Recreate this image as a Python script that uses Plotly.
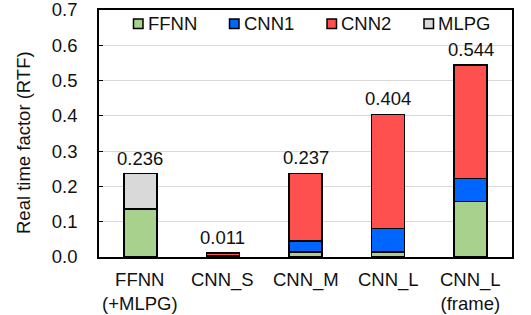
import plotly.graph_objects as go

categories = ["FFNN<br>(+MLPG)", "CNN_S", "CNN_M", "CNN_L", "CNN_L<br>(frame)"]
ffnn = [0.136, 0.001, 0.014, 0.014, 0.157]
cnn1 = [0.0, 0.002, 0.031, 0.067, 0.065]
cnn2 = [0.0, 0.008, 0.192, 0.323, 0.322]
mlpg = [0.100, 0.0, 0.0, 0.0, 0.0]
totals = [0.236, 0.011, 0.237, 0.404, 0.544]
total_labels = ["0.236", "0.011", "0.237", "0.404", "0.544"]
legend_names = ["FFNN", "CNN1", "CNN2", "MLPG"]
colors = ["#a9d18e", "#0066ff", "#ff5050", "#d9d9d9"]

W, H = 531, 315
L, R, T, B = 99, 19, 10, 58
pw, ph = W - L - R, H - T - B
def px(x): return (x - L) / pw
def py(y): return (H - B - y) / ph

fig = go.Figure()
for name, vals, col in zip(legend_names, [ffnn, cnn1, cnn2, mlpg], colors):
    fig.add_trace(go.Bar(x=categories, y=vals, name=name, showlegend=False,
                         marker=dict(color=col, line=dict(color="black", width=1.5))))

for c, t, lab in zip(categories, totals, total_labels):
    fig.add_annotation(x=c, y=t, text=lab, showarrow=False, yanchor="bottom",
                       yshift=3, font=dict(size=18.5, color="#111"))

# category labels under the axis
for c in categories:
    fig.add_annotation(x=c, xref="x", yref="paper", y=py(267), yanchor="top",
                       text=c, showarrow=False, align="center",
                       font=dict(size=18.5, color="#111"))

# manual legend
leg_x = [133.5, 229.5, 327, 424]
for xs, name, col in zip(leg_x, legend_names, colors):
    fig.add_shape(type="rect", xref="paper", yref="paper",
                  x0=px(xs), x1=px(xs + 9.5), y0=py(28.5), y1=py(19),
                  fillcolor=col, line=dict(color="black", width=1.5))
    fig.add_annotation(xref="paper", yref="paper", x=px(xs + 12), y=py(24),
                       xanchor="left", yanchor="middle", text=name, showarrow=False,
                       font=dict(size=18.5, color="#111"))

# y-axis title
fig.add_annotation(xref="paper", yref="paper", x=px(23), y=py(143), textangle=-90,
                   text="Real time factor (RTF)", showarrow=False,
                   xanchor="center", yanchor="middle", font=dict(size=18.5, color="#111"))

font = "Liberation Sans, Arial, sans-serif"
fig.update_layout(
    width=W, height=H, barmode="stack", bargap=0.6,
    margin=dict(l=L, r=R, t=T, b=B, autoexpand=False),
    paper_bgcolor="white", plot_bgcolor="white",
    font=dict(family=font, size=18.5, color="#111"),
    showlegend=False,
    xaxis=dict(showline=True, linecolor="black", linewidth=1.5, mirror=True,
               ticks="", showticklabels=False, automargin=False),
    yaxis=dict(range=[0, 0.7], dtick=0.1, tickformat=".1f",
               showline=True, linecolor="black", linewidth=1.5, mirror=True,
               ticks="inside", ticklen=4, tickcolor="black",
               gridcolor="#d9d9d9", gridwidth=1, zeroline=False,
               ticklabelstandoff=16, ticklabeloverflow="allow", automargin=False,
               tickfont=dict(size=18.5)),
)
fig.write_html("out.html", config={"displayModeBar": False},
               post_script="document.body.style.margin='0';document.body.style.overflow='hidden';")
